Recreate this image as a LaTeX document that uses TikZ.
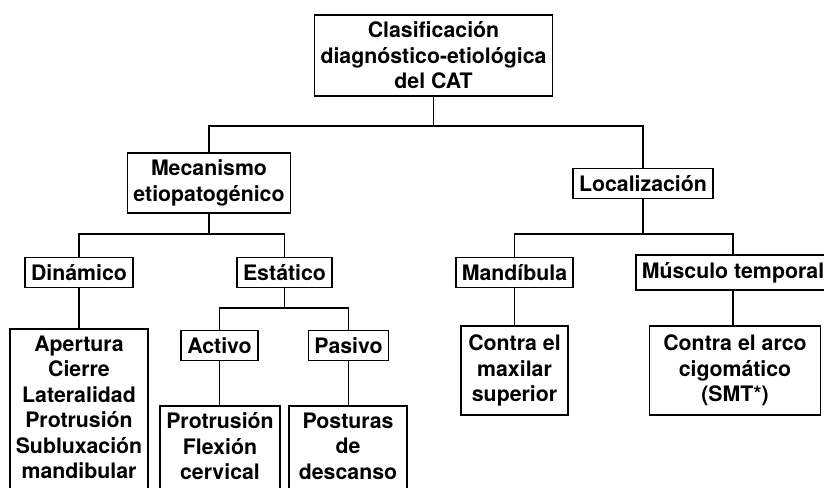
\documentclass[tikz,border=0pt]{standalone}
\usepackage{fontspec}
\setmainfont{TeX Gyre Heros}
\tikzset{
  caja/.style={draw,line width=1.7pt,align=center,inner xsep=6pt,inner ysep=7pt,
    font=\bfseries\fontsize{21.3}{25.5}\selectfont},
  cortada/.style={caja,anchor=north,text depth=25pt},
  rama/.style={line width=1.7pt}
}
\begin{document}
\begin{tikzpicture}[x=1pt,y=1pt]
      \clip(0,0)rectangle(824,-487);
      \node[caja](clasif)at(433.5,-55.5){Clasificación\\diagnóstico-etiológica\\del CAT};
      \node[caja](mecan)at(209,-183){Mecanismo\\etiopatogénico};
      \node[caja](local)at(643,-183.5){Localización};
      \node[caja](dinam)at(79,-272.5){Dinámico};
      \node[caja](estat)at(284.5,-272.5){Estático};
      \node[caja](mandib)at(514.5,-272.5){Mandíbula};
      \node[caja](muscul)at(733,-272.5){Músculo temporal};
      \node[caja](activo)at(219.5,-345.5){Activo};
      \node[caja](pasivo)at(348.5,-345.5){Pasivo};
      \node[cortada](apert)at(79,-328){Apertura\\Cierre\\Lateralidad\\Protrusión\\Subluxación\\mandibular};
      \node[cortada,minimum width=116pt](protr)at(220,-405){Protrusión\\Flexión\\cervical};
      \node[cortada,minimum width=118pt](postur)at(348,-405){Posturas\\de\\descanso};
      \node[caja,minimum width=107pt,minimum height=89pt](maxil)at(514.5,-370.5){Contra el\\maxilar\\superior};
      \node[caja,minimum width=171pt,minimum height=89pt](arco)at(735,-370.5){Contra el arco\\cigomático\\(SMT*)};
      % niveles de las barras
      \coordinate(n1)at(0,-126);
      \coordinate(n2)at(0,-234);
      \coordinate(n3)at(0,-308);
      \draw[rama](clasif)--(clasif|-n1)-|(mecan);
      \draw[rama](clasif|-n1)-|(local);
      \draw[rama](mecan)--(mecan|-n2)-|(dinam);
      \draw[rama](mecan|-n2)-|(estat);
      \draw[rama](local)--(local|-n2)-|(mandib);
      \draw[rama](local|-n2)-|(muscul);
      \draw[rama](estat)--(estat|-n3)-|(activo);
      \draw[rama](estat|-n3)-|(pasivo);
      \draw[rama](dinam)--(dinam|-apert.north);
      \draw[rama](activo)--(activo|-protr.north);
      \draw[rama](pasivo)--(pasivo|-postur.north);
      \draw[rama](mandib)--(maxil);
      \draw[rama](muscul)--(muscul|-arco.north);
    \end{tikzpicture}
\end{document}
